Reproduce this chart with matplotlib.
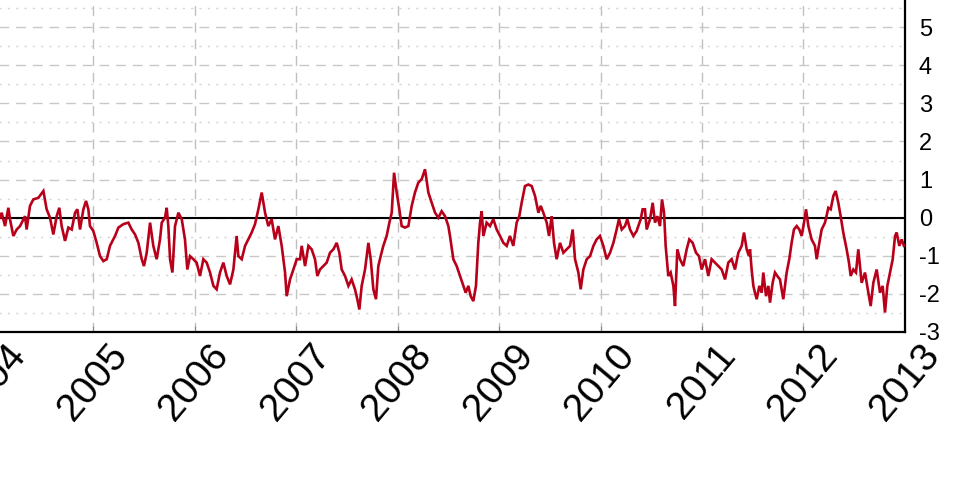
import matplotlib
matplotlib.use("Agg")
import matplotlib.pyplot as plt
import numpy as np

plt.rcParams['font.family'] = ['Liberation Sans', 'DejaVu Sans']
plt.rcParams['axes.unicode_minus'] = False

# ---- data (decimal year, value), one block per stretch ----
t_2004 = [2004.084, 2004.100, 2004.133, 2004.166, 2004.182, 2004.215, 2004.248, 2004.281, 2004.330, 2004.346,
          2004.379, 2004.412, 2004.461, 2004.511, 2004.543, 2004.576, 2004.609, 2004.642, 2004.668, 2004.691,
          2004.724, 2004.757, 2004.790, 2004.823, 2004.846, 2004.872, 2004.905, 2004.931, 2004.954, 2004.970,
          2005.003, 2005.036, 2005.069, 2005.102, 2005.135, 2005.167, 2005.217, 2005.250, 2005.299, 2005.348,
          2005.381, 2005.414, 2005.447, 2005.480, 2005.502, 2005.529]
v_2004 = [0.0, 0.13, -0.22, 0.26, -0.04, -0.48, -0.31, -0.22, 0.04, -0.31,
          0.31, 0.48, 0.52, 0.70, 0.22, 0.0, -0.44, 0.04, 0.26, -0.22,
          -0.61, -0.26, -0.31, 0.13, 0.22, -0.31, 0.22, 0.44, 0.22, -0.22,
          -0.35, -0.66, -1.01, -1.14, -1.09, -0.74, -0.48, -0.26, -0.17, -0.13,
          -0.31, -0.44, -0.66, -1.09, -1.27, -0.92]

t_2005 = [2005.562, 2005.594, 2005.627, 2005.660, 2005.677, 2005.709, 2005.726, 2005.742, 2005.759, 2005.782,
          2005.808, 2005.841, 2005.874, 2005.906, 2005.929, 2005.956, 2005.989, 2006.021, 2006.054, 2006.087,
          2006.120, 2006.153, 2006.186, 2006.218, 2006.251, 2006.284, 2006.317, 2006.350, 2006.383, 2006.415,
          2006.432, 2006.465, 2006.498, 2006.530, 2006.563, 2006.596, 2006.629, 2006.662, 2006.695, 2006.727,
          2006.760, 2006.793, 2006.826, 2006.859, 2006.892, 2006.908, 2006.941, 2006.974, 2007.007]
v_2005 = [-0.13, -0.74, -1.09, -0.57, -0.13, 0.0, 0.26, -0.22, -1.09, -1.44,
          -0.22, 0.13, -0.04, -0.57, -1.36, -1.01, -1.09, -1.18, -1.53, -1.09,
          -1.18, -1.44, -1.79, -1.88, -1.44, -1.18, -1.53, -1.75, -1.36, -0.48,
          -1.01, -1.09, -0.74, -0.57, -0.39, -0.17, 0.22, 0.66, 0.13, -0.22,
          -0.04, -0.57, -0.22, -0.74, -1.44, -2.06, -1.62, -1.36, -1.09]

t_2007 = [2007.039, 2007.056, 2007.089, 2007.122, 2007.154, 2007.187, 2007.210, 2007.236, 2007.269, 2007.302,
          2007.335, 2007.368, 2007.401, 2007.427, 2007.450, 2007.483, 2007.516, 2007.548, 2007.581, 2007.604,
          2007.624, 2007.647, 2007.680, 2007.713, 2007.736, 2007.762, 2007.788, 2007.811, 2007.834, 2007.860,
          2007.893, 2007.920, 2007.943, 2007.966, 2007.992, 2008.018, 2008.041, 2008.074, 2008.107, 2008.140,
          2008.172, 2008.205, 2008.238, 2008.271, 2008.304, 2008.337, 2008.370, 2008.402, 2008.435, 2008.468,
          2008.501]
v_2007 = [-1.09, -0.74, -1.27, -0.74, -0.83, -1.09, -1.53, -1.36, -1.27, -1.18,
          -0.92, -0.83, -0.66, -0.92, -1.36, -1.53, -1.79, -1.62, -1.88, -2.14,
          -2.41, -1.79, -1.36, -0.66, -1.09, -1.88, -2.14, -1.27, -1.01, -0.74,
          -0.48, -0.13, 0.13, 1.18, 0.66, 0.22, -0.22, -0.26, -0.22, 0.31,
          0.66, 0.92, 1.01, 1.27, 0.66, 0.39, 0.13, 0.0, 0.17, 0.04,
          -0.22]

t_2008 = [2008.517, 2008.550, 2008.583, 2008.616, 2008.649, 2008.672, 2008.698, 2008.721, 2008.747, 2008.773,
          2008.796, 2008.813, 2008.829, 2008.846, 2008.878, 2008.911, 2008.944, 2008.977, 2009.010, 2009.043,
          2009.076, 2009.108, 2009.141, 2009.174, 2009.200, 2009.223, 2009.256, 2009.289, 2009.322, 2009.355,
          2009.388, 2009.411, 2009.437, 2009.470, 2009.493, 2009.519, 2009.542, 2009.568, 2009.601, 2009.634,
          2009.667, 2009.700, 2009.726, 2009.749, 2009.782, 2009.805, 2009.831, 2009.864, 2009.897, 2009.930,
          2009.962]
v_2008 = [-0.48, -1.09, -1.27, -1.53, -1.79, -1.97, -1.79, -2.06, -2.19, -1.79,
          -0.66, -0.13, 0.17, -0.48, -0.13, -0.22, -0.04, -0.31, -0.48, -0.66,
          -0.74, -0.48, -0.74, -0.13, 0.04, 0.39, 0.83, 0.87, 0.83, 0.57,
          0.13, 0.31, 0.13, -0.13, -0.48, 0.04, -0.66, -1.09, -0.66, -0.92,
          -0.83, -0.74, -0.31, -1.09, -1.44, -1.88, -1.36, -1.09, -1.01, -0.74,
          -0.57]

t_2010 = [2009.995, 2010.028, 2010.061, 2010.094, 2010.127, 2010.159, 2010.182, 2010.209, 2010.241, 2010.264,
          2010.291, 2010.324, 2010.356, 2010.396, 2010.415, 2010.438, 2010.455, 2010.488, 2010.514, 2010.537,
          2010.560, 2010.586, 2010.606, 2010.626, 2010.642, 2010.668, 2010.691, 2010.718, 2010.734, 2010.757,
          2010.783, 2010.816, 2010.849, 2010.875, 2010.908, 2010.941, 2010.970, 2010.997, 2011.030, 2011.062,
          2011.095, 2011.128, 2011.161, 2011.194, 2011.227, 2011.259, 2011.292, 2011.325, 2011.358, 2011.391,
          2011.414, 2011.440, 2011.463]
v_2010 = [-0.48, -0.74, -1.09, -0.92, -0.66, -0.31, -0.04, -0.31, -0.22, -0.04,
          -0.31, -0.48, -0.35, -0.04, 0.22, 0.22, -0.31, -0.04, 0.39, -0.13,
          0.04, -0.22, 0.48, 0.13, -0.74, -1.53, -1.44, -1.79, -2.32, -0.83,
          -1.09, -1.27, -0.83, -0.57, -0.66, -0.92, -1.01, -1.36, -1.09, -1.53,
          -1.09, -1.18, -1.27, -1.36, -1.62, -1.18, -1.09, -1.36, -0.92, -0.74,
          -0.39, -0.83, -1.01]

t_2011 = [2011.473, 2011.489, 2011.506, 2011.522, 2011.539, 2011.565, 2011.588, 2011.604, 2011.631, 2011.654,
          2011.670, 2011.696, 2011.719, 2011.742, 2011.768, 2011.801, 2011.834, 2011.860, 2011.883, 2011.906,
          2011.933, 2011.959, 2011.982, 2012.005, 2012.025, 2012.048, 2012.080, 2012.113, 2012.130, 2012.156,
          2012.179, 2012.212, 2012.245, 2012.268, 2012.294, 2012.317, 2012.343, 2012.366, 2012.392, 2012.425,
          2012.448, 2012.465, 2012.491, 2012.517, 2012.540, 2012.573, 2012.606, 2012.639, 2012.662, 2012.688,
          2012.721, 2012.754, 2012.780, 2012.803, 2012.826, 2012.853, 2012.879, 2012.902, 2012.918, 2012.944,
          2012.967, 2012.990]
v_2011 = [-0.83, -1.36, -1.79, -1.97, -2.14, -1.79, -1.97, -1.44, -2.06, -1.79,
          -2.23, -1.71, -1.44, -1.53, -1.62, -2.14, -1.44, -1.09, -0.66, -0.31,
          -0.22, -0.31, -0.48, -0.13, 0.22, -0.22, -0.57, -0.74, -1.09, -0.66,
          -0.31, -0.13, 0.26, 0.22, 0.57, 0.70, 0.39, 0.04, -0.39, -0.83,
          -1.18, -1.53, -1.36, -1.44, -0.83, -1.71, -1.44, -1.97, -2.32, -1.71,
          -1.36, -1.97, -1.79, -2.49, -1.79, -1.44, -1.09, -0.48, -0.39, -0.74,
          -0.57, -0.74]

year_ticks = [2004, 2005, 2006, 2007, 2008, 2009, 2010, 2011, 2012, 2013]
year_labels = [str(y) for y in year_ticks]
y_ticks = [-3, -2, -1, 0, 1, 2, 3, 4, 5, 6]

t = np.concatenate([t_2004, t_2005, t_2007, t_2008, t_2010, t_2011])
v = np.concatenate([v_2004, v_2005, v_2007, v_2008, v_2010, v_2011])

# ---- figure ----
fig = plt.figure(figsize=(9.6, 4.88), dpi=100)
# axes extend past the left and top edges (the picture is a crop)
ax = fig.add_axes([-0.0194, 0.3197, 0.9621, 0.7027])
ax.set_xlim(2003.9, 2013.0)
ax.set_ylim(-3, 6)

ax.plot(t, v, color='#b8001a', lw=1.9, solid_joinstyle='miter', zorder=3)
ax.axhline(0, color='black', lw=1.5, zorder=2)

ax.set_xticks(year_ticks)
ax.set_xticklabels(year_labels, rotation=50, fontsize=28)
ax.set_yticks(y_ticks)
ax.set_yticks(np.arange(-2.5, 6, 1.0), minor=True)
ax.yaxis.tick_right()
ax.tick_params(axis='y', which='both', length=0, pad=10, labelsize=17)
ax.tick_params(axis='x', which='major', direction='in', length=4, width=0.8,
               color='#888888', pad=4)
ax.tick_params(axis='x', which='minor', length=0)

ax.grid(axis='x', which='major', color='#c0c0c0', lw=1.0, linestyle=(0, (7, 5)))
ax.grid(axis='y', which='major', color='#c8c8c8', lw=1.0, linestyle=(0, (7, 5)))
ax.grid(axis='y', which='minor', color='#d4d4d4', lw=1.0, linestyle=(0, (1.5, 4.5)))
ax.set_axisbelow(True)

for s in ['left', 'top']:
    ax.spines[s].set_visible(False)
for s in ['right', 'bottom']:
    ax.spines[s].set_color('black')
    ax.spines[s].set_linewidth(1.6)

fig.savefig('out.png', dpi=100, facecolor='white')
